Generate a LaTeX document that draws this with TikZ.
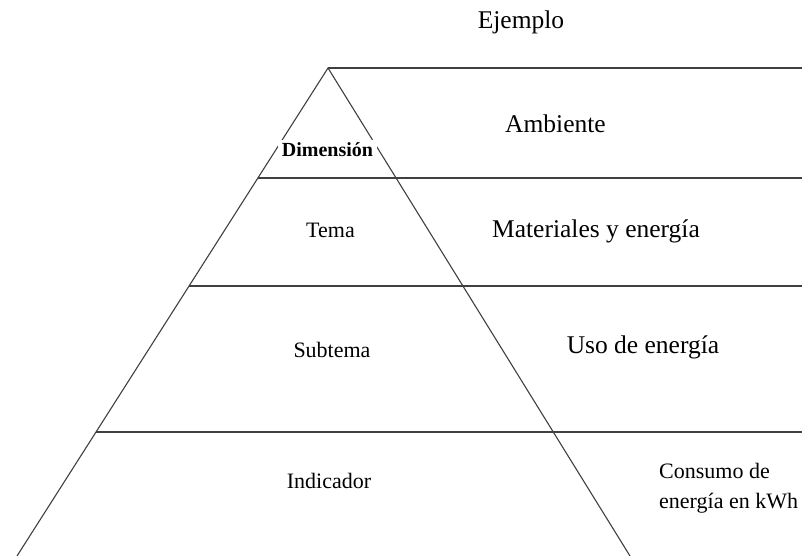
\documentclass[tikz,border=0pt]{standalone}
\usepackage{fontspec}
\setmainfont{Liberation Serif}
\begin{document}
\begin{tikzpicture}[x=1pt,y=-1pt,
  edge/.style={draw=black!75,line width=1.1pt},
  big/.style={font=\fontsize{25.5}{30}\selectfont,anchor=base},
  small/.style={font=\fontsize{22}{30}\selectfont,anchor=base},
  dimbox/.style={fill=white,inner xsep=3.5pt,inner ysep=3pt,anchor=base,font=\fontsize{20}{24}\selectfont\bfseries}]
\useasboundingbox (0,0) rectangle (802,556);
% pyramid
\coordinate (apex) at (328,68);
\coordinate (bl) at (17,556);
\coordinate (br) at (630,556);
\coordinate (l1) at (258,178);
\coordinate (l2) at (189,286);
\coordinate (l3) at (96,432);
\coordinate (r0) at (802,68);
\coordinate (r1) at (802,178);
\coordinate (r2) at (802,286);
\coordinate (r3) at (802,432);
\draw[edge] (bl) -- (apex) -- (br);
\draw[edge] (apex) -- (r0);
\draw[edge] (l1) -- (r1);
\draw[edge] (l2) -- (r2);
\draw[edge] (l3) -- (r3);
% labels
\node[big] (ej) at (521,29) {Ejemplo};
\node[dimbox] (dim) at (327.5,157) {Dimensión};
\node[big] (amb) at (555.5,133) {Ambiente};
\node[small] (tema) at (330.5,237) {Tema};
\node[big] (mat) at (596,237) {Materiales y energía};
\node[small] (sub) at (332,357) {Subtema};
\node[big] (uso) at (643,353) {Uso de energía};
\node[small] (ind) at (329,488) {Indicador};
\node[small,anchor=base west,inner sep=0pt] (con1) at (659,478) {Consumo de};
\node[small,anchor=base west,inner sep=0pt] (con2) at (659,508) {energía en kWh};
\end{tikzpicture}
\end{document}
